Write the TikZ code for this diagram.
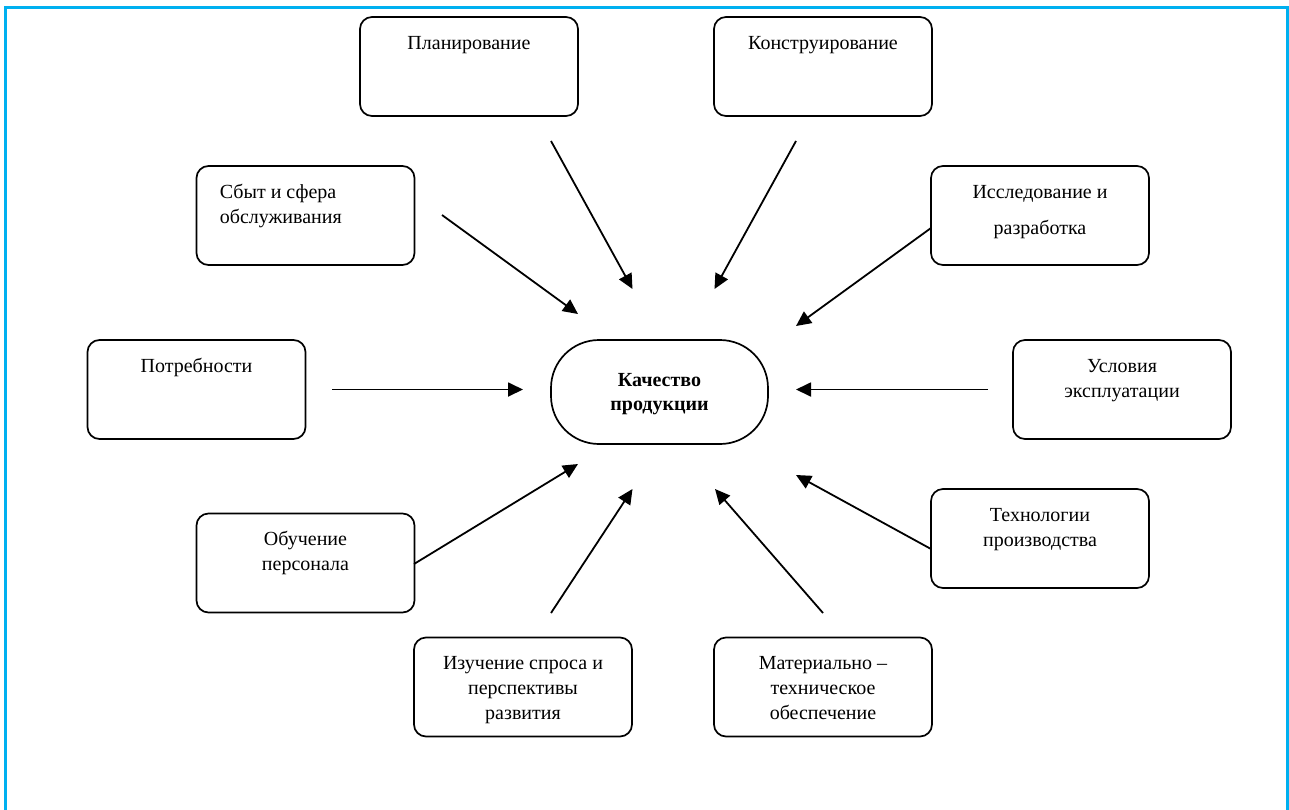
\documentclass[tikz,border=0pt]{standalone}
\usepackage{fontspec}
\setmainfont{Liberation Serif}
\usetikzlibrary{arrows.meta}
\definecolor{framecol}{RGB}{0,176,240}
\begin{document}
\begin{tikzpicture}[x=1pt,y=-1pt,
  fbox/.style={draw, rounded corners=12pt, line width=1.7pt, minimum width=218pt, minimum height=99pt, inner sep=0pt},
  ftext/.style={anchor=north, inner sep=0pt, align=center, font=\fontsize{20}{25}\selectfont, yshift=-15.5pt},
  arr/.style={line width=1.8pt, -{Triangle[length=15pt,width=14pt]}}]
\clip (0,0) rectangle (1289,809);
\draw[framecol, line width=3pt] (5.5,830) -- (5.5,7.5) -- (1287.5,7.5) -- (1287.5,830);

% boxes
\node[fbox] (plan) at (469,66.5) {};
\node[fbox] (constr) at (823,66.5) {};
\node[fbox] (sbyt) at (305.5,215.5) {};
\node[fbox] (issl) at (1040,215.5) {};
\node[fbox] (potr) at (196.5,389.5) {};
\node[fbox] (usl) at (1122,389.5) {};
\node[fbox] (obuch) at (305.5,563) {};
\node[fbox] (tech) at (1040,538.5) {};
\node[fbox] (izuch) at (523,687) {};
\node[fbox] (mat) at (823,687) {};
\node[draw, rounded corners=48pt, line width=1.7pt, minimum width=217pt, minimum height=104pt, inner sep=0pt] (qual) at (659.5,392) {};

% texts
\node[ftext] (plan-t) at (plan.north) {\strut Планирование};
\node[ftext] (constr-t) at (constr.north) {\strut Конструирование};
\node[ftext, anchor=north west, align=left, xshift=24pt] (sbyt-t) at (sbyt.north west) {\strut Сбыт и сфера\\обслуживания};
\node[ftext] (issl-t) at (issl.north) {\strut Исследование и\\[11pt]разработка};
\node[ftext] (potr-t) at (potr.north) {\strut Потребности};
\node[ftext] (usl-t) at (usl.north) {\strut Условия\\эксплуатации};
\node[ftext] (obuch-t) at (obuch.north) {\strut Обучение\\персонала};
\node[ftext] (tech-t) at (tech.north) {\strut Технологии\\производства};
\node[ftext] (izuch-t) at (izuch.north) {\strut Изучение спроса и\\перспективы\\развития};
\node[ftext] (mat-t) at (mat.north) {\strut Материально –\\техническое\\обеспечение};
\node[ftext, font=\fontsize{20}{24}\bfseries, yshift=-14.5pt] (qual-t) at (qual.north) {\strut Качество\\продукции};

% arrow end points
\coordinate (a1s) at (551,141);   \coordinate (a1e) at (632.5,289);
\coordinate (a2s) at (796,141);   \coordinate (a2e) at (714.5,289);
\coordinate (a3s) at (442,215);   \coordinate (a3e) at (578,314);
\coordinate (a4s) at (931,228);   \coordinate (a4e) at (796,326);
\coordinate (a5s) at (332,389.5); \coordinate (a5e) at (523,389.5);
\coordinate (a6s) at (988,389.5); \coordinate (a6e) at (796,389.5);
\coordinate (a7s) at (414,564);   \coordinate (a7e) at (578,464);
\coordinate (a8s) at (931,549);   \coordinate (a8e) at (796,475);
\coordinate (a9s) at (551,613);   \coordinate (a9e) at (632.5,489);
\coordinate (a10s) at (823,613);  \coordinate (a10e) at (715,489);

\foreach \i in {1,...,10} {\draw[arr] (a\i s) -- (a\i e);}
\end{tikzpicture}
\end{document}
